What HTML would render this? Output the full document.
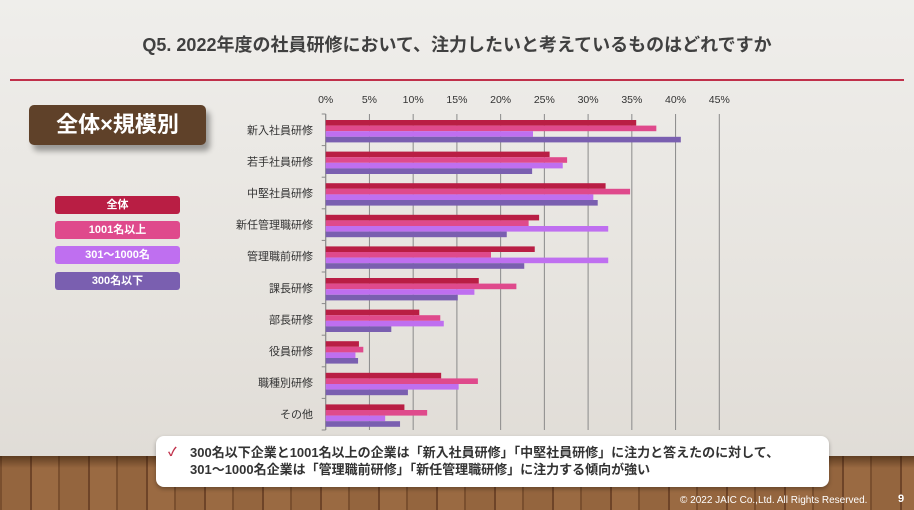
<!DOCTYPE html>
<html><head><meta charset="utf-8">
<style>
*{margin:0;padding:0;box-sizing:border-box}
body{width:914px;height:510px;overflow:hidden;position:relative;font-family:"Liberation Sans","Noto Sans CJK JP",sans-serif;background:linear-gradient(180deg,#efeeeb 0%,#e6e3de 60%,#dedad4 100%)}
#floor{position:absolute;left:0;top:456px;width:914px;height:54px;background:repeating-linear-gradient(90deg,#7a4f2e 0 2px,#94653e 2px 30px,#6e4428 30px 32px,#9a6a42 32px 58px);}
#floor:after{content:"";position:absolute;left:0;top:0;right:0;height:12px;background:linear-gradient(180deg,rgba(40,20,5,.5),rgba(0,0,0,0))}
#title{position:absolute;left:0;width:914px;top:31px;text-align:center;font-size:18px;font-weight:bold;color:#404040}
#rule{position:absolute;left:10px;top:79px;width:894px;height:2px;background:#c0304a}
#badge{position:absolute;left:29px;top:105px;width:177px;height:40px;background:#5f4129;border-radius:5px;color:#fff;font-weight:bold;font-size:22px;text-align:center;line-height:40px;box-shadow:4px 6px 6px rgba(0,0,0,.35)}
.leg{position:absolute;left:55px;width:125px;height:18px;border-radius:3px;color:#fff;font-weight:bold;font-size:11px;text-align:center;line-height:18px}
#callout{position:absolute;left:156px;top:436px;width:673px;height:51px;background:#fff;border-radius:8px;box-shadow:0 2px 4px rgba(0,0,0,.3);font-size:13px;font-weight:bold;color:#333;padding:8px 0 0 34px;line-height:17px}
#check{position:absolute;left:12px;top:8px;color:#c0304a;font-size:12px}
#copy{position:absolute;left:680px;top:495px;font-size:10px;color:#fff}
#pg{position:absolute;left:898px;top:493px;font-size:11px;font-weight:bold;color:#fff}
</style></head><body>
<div id="floor"></div>
<div id="title">Q5. 2022年度の社員研修において、注力したいと考えているものはどれですか</div>
<div id="rule"></div>
<div id="badge">全体×規模別</div>
<div class="leg" style="top:196px;background:#b91e44">全体</div>
<div class="leg" style="top:221px;background:#df4a8c">1001名以上</div>
<div class="leg" style="top:246px;background:#bf6ff0">301～1000名</div>
<div class="leg" style="top:272px;background:#7a5fb0">300名以下</div>
<svg id="chart" style="position:absolute;left:0;top:0" width="914" height="510"></svg>
<div id="callout"><span id="check">✓</span>300名以下企業と1001名以上の企業は「新入社員研修」「中堅社員研修」に注力と答えたのに対して、<br>301～1000名企業は「管理職前研修」「新任管理職研修」に注力する傾向が強い</div>
<div id="copy">© 2022 JAIC Co.,Ltd. All Rights Reserved.</div>
<div id="pg">9</div>
<script>
const categories=["新入社員研修","若手社員研修","中堅社員研修","新任管理職研修","管理職前研修","課長研修","部長研修","役員研修","職種別研修","その他"];
const seriesNames=["全体","1001名以上","301～1000名","300名以下"];
const allValues=[35.5,25.6,32.0,24.4,23.9,17.5,10.7,3.8,13.2,9.0];
const over1001Values=[37.8,27.6,34.8,23.2,18.9,21.8,13.1,4.3,17.4,11.6];
const mid301Values=[23.7,27.1,30.6,32.3,32.3,17.0,13.5,3.4,15.2,6.8];
const under300Values=[40.6,23.6,31.1,20.7,22.7,15.1,7.5,3.7,9.4,8.5];
const tickValues=[0,5,10,15,20,25,30,35,40,45];
const series=[allValues,over1001Values,mid301Values,under300Values];
const colors=["#b91e44","#df4a8c","#bf6ff0","#7a5fb0"];
const NS="http://www.w3.org/2000/svg";
const svg=document.getElementById("chart");
const x0=325.7,x1=719.3,top0=114,bot=430;
const xs=v=>x0+(x1-x0)*v/45;
const band=(bot-top0)/categories.length;
const ys=i=>top0+band*i;
function mk(t,a){const e=document.createElementNS(NS,t);for(const k in a)e.setAttribute(k,a[k]);svg.appendChild(e);return e;}
tickValues.forEach(t=>{
  const l=mk("line",{x1:xs(t),x2:xs(t),y1:top0,y2:bot,stroke:"#8a8a8a","stroke-width":1});
  
  
  const tx=mk("text",{x:xs(t),y:103,"text-anchor":"middle","font-size":10.5,fill:"#333"});
  tx.textContent=t+"%";
  
  
});
for(let i=0;i<=categories.length;i++){
  const l=mk("line",{x1:x0-4,x2:x0,y1:ys(i),y2:ys(i),stroke:"#8a8a8a"});
  
  
}
const ax=mk("line",{x1:x0,x2:x0,y1:top0,y2:bot,stroke:"#8a8a8a"});


const bh=5.6;
categories.forEach((c,i)=>{
  const t=mk("text",{x:313,y:ys(i)+band/2+4,"text-anchor":"end","font-size":11,fill:"#333"});
  t.textContent=c;
  
  
  series.forEach((s,j)=>{
    const r=mk("rect",{x:x0,y:ys(i)+6+j*bh,width:xs(s[i])-x0,height:bh,fill:colors[j]});
    
    
  });
});
</script>
</body></html>
